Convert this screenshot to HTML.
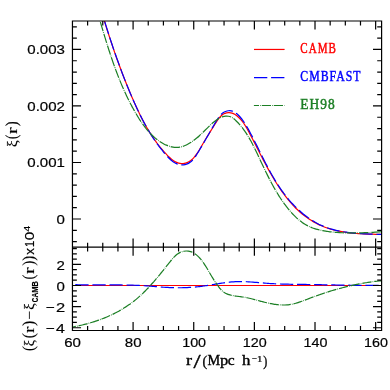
<!DOCTYPE html>
<html><head><meta charset="utf-8"><title>xi(r)</title>
<style>html,body{margin:0;padding:0;background:#fff;}body{width:390px;height:390px;overflow:hidden;font-family:"Liberation Sans",sans-serif;}svg{display:block;will-change:transform;}</style>
</head><body>
<svg width="390" height="390" viewBox="0 0 390 390">
<defs>
<clipPath id="ct"><rect x="72.45" y="21.0" width="309.15" height="226.20"/></clipPath>
<clipPath id="cb"><rect x="72.45" y="247.2" width="309.15" height="83.30"/></clipPath>
</defs>
<rect width="390" height="390" fill="#fff"/>
<g fill="none" stroke-width="1.2" stroke-linecap="butt" stroke-linejoin="round">
<g clip-path="url(#ct)">
<path d="M100.03,6.33 C100.17,6.79 100.58,8.20 100.85,9.13 C101.13,10.07 101.41,11.00 101.68,11.93 C101.96,12.87 102.24,13.80 102.52,14.74 C102.80,15.67 103.08,16.60 103.36,17.54 C103.65,18.47 103.93,19.40 104.22,20.34 C104.50,21.27 104.79,22.20 105.08,23.13 C105.36,24.07 105.65,25.00 105.94,25.93 C106.23,26.86 106.53,27.79 106.82,28.72 C107.11,29.66 107.41,30.59 107.71,31.52 C108.00,32.45 108.30,33.38 108.60,34.30 C108.90,35.23 109.20,36.16 109.51,37.09 C109.81,38.02 110.11,38.95 110.42,39.88 C110.73,40.80 111.03,41.73 111.34,42.66 C111.65,43.58 111.96,44.51 112.27,45.43 C112.59,46.36 112.90,47.28 113.22,48.21 C113.53,49.13 113.85,50.06 114.17,50.98 C114.49,51.90 114.81,52.83 115.13,53.75 C115.46,54.67 115.78,55.59 116.11,56.51 C116.43,57.43 116.76,58.35 117.09,59.27 C117.42,60.19 117.75,61.11 118.09,62.03 C118.42,62.95 118.75,63.87 119.09,64.78 C119.43,65.70 119.77,66.62 120.11,67.53 C120.45,68.45 120.79,69.36 121.14,70.27 C121.48,71.19 121.83,72.10 122.18,73.01 C122.53,73.93 122.88,74.84 123.23,75.75 C123.58,76.66 123.94,77.57 124.29,78.48 C124.65,79.39 125.01,80.29 125.37,81.20 C125.73,82.11 126.09,83.02 126.46,83.92 C126.82,84.83 127.19,85.73 127.56,86.63 C127.93,87.54 128.30,88.44 128.67,89.34 C129.05,90.24 129.42,91.14 129.80,92.04 C130.18,92.94 130.56,93.84 130.94,94.74 C131.32,95.64 131.71,96.54 132.09,97.43 C132.48,98.33 132.87,99.22 133.26,100.12 C133.65,101.01 134.05,101.90 134.44,102.79 C134.84,103.68 135.24,104.57 135.64,105.46 C136.04,106.35 136.45,107.24 136.86,108.12 C137.27,109.00 137.68,109.89 138.10,110.77 C138.51,111.65 138.93,112.53 139.36,113.40 C139.79,114.28 140.22,115.15 140.65,116.02 C141.09,116.90 141.53,117.76 141.97,118.63 C142.42,119.49 142.87,120.36 143.32,121.22 C143.78,122.08 144.24,122.93 144.71,123.79 C145.17,124.64 145.65,125.49 146.13,126.34 C146.61,127.18 147.09,128.03 147.59,128.86 C148.08,129.70 148.58,130.54 149.09,131.37 C149.60,132.20 150.11,133.03 150.63,133.85 C151.16,134.67 151.69,135.49 152.23,136.30 C152.76,137.12 153.31,137.93 153.87,138.73 C154.42,139.53 154.98,140.33 155.56,141.13 C156.13,141.92 156.71,142.71 157.30,143.50 C157.89,144.28 158.49,145.06 159.10,145.83 C159.71,146.60 160.33,147.37 160.96,148.13 C161.59,148.90 162.23,149.65 162.88,150.40 C163.53,151.15 164.19,151.90 164.86,152.63 C165.53,153.37 166.21,154.10 166.91,154.83 C167.60,155.55 168.31,156.28 169.03,156.97 C169.75,157.66 170.48,158.34 171.23,158.97 C171.99,159.60 172.75,160.20 173.55,160.73 C174.34,161.27 175.15,161.76 175.99,162.16 C176.82,162.57 177.68,162.92 178.57,163.16 C179.46,163.40 180.37,163.57 181.32,163.62 C182.26,163.67 183.27,163.62 184.23,163.46 C185.19,163.30 186.18,163.02 187.09,162.66 C187.99,162.30 188.86,161.82 189.67,161.29 C190.49,160.76 191.26,160.14 192.00,159.48 C192.74,158.82 193.43,158.08 194.09,157.33 C194.75,156.57 195.38,155.77 195.98,154.96 C196.58,154.16 197.14,153.32 197.68,152.49 C198.23,151.67 198.74,150.84 199.25,150.00 C199.76,149.17 200.24,148.34 200.74,147.50 C201.23,146.67 201.71,145.84 202.20,145.00 C202.68,144.17 203.17,143.34 203.67,142.51 C204.16,141.68 204.65,140.86 205.15,140.03 C205.65,139.20 206.15,138.37 206.65,137.55 C207.15,136.72 207.65,135.89 208.16,135.07 C208.67,134.24 209.18,133.41 209.69,132.58 C210.20,131.75 210.71,130.93 211.23,130.10 C211.75,129.26 212.26,128.43 212.79,127.60 C213.31,126.77 213.83,125.93 214.36,125.09 C214.89,124.26 215.41,123.41 215.95,122.57 C216.49,121.74 217.02,120.89 217.59,120.08 C218.17,119.26 218.76,118.45 219.41,117.69 C220.06,116.94 220.75,116.18 221.49,115.53 C222.23,114.89 223.03,114.27 223.87,113.82 C224.70,113.36 225.59,113.01 226.50,112.80 C227.40,112.59 228.35,112.52 229.27,112.56 C230.20,112.61 231.15,112.78 232.06,113.07 C232.96,113.35 233.86,113.78 234.70,114.28 C235.54,114.77 236.35,115.40 237.12,116.02 C237.89,116.65 238.62,117.34 239.31,118.04 C240.01,118.73 240.66,119.46 241.29,120.21 C241.93,120.95 242.52,121.72 243.10,122.51 C243.68,123.30 244.22,124.10 244.76,124.92 C245.29,125.74 245.80,126.58 246.30,127.42 C246.80,128.26 247.28,129.11 247.76,129.97 C248.23,130.83 248.70,131.70 249.16,132.56 C249.62,133.43 250.08,134.29 250.54,135.16 C250.99,136.03 251.45,136.90 251.90,137.77 C252.35,138.63 252.80,139.50 253.25,140.37 C253.70,141.24 254.15,142.11 254.59,142.98 C255.04,143.85 255.49,144.72 255.93,145.59 C256.37,146.46 256.82,147.33 257.26,148.20 C257.71,149.07 258.15,149.94 258.59,150.80 C259.04,151.67 259.48,152.54 259.92,153.41 C260.37,154.27 260.81,155.14 261.26,156.01 C261.71,156.87 262.15,157.74 262.60,158.60 C263.05,159.46 263.50,160.33 263.95,161.19 C264.41,162.05 264.86,162.91 265.32,163.77 C265.78,164.62 266.23,165.48 266.70,166.34 C267.16,167.19 267.62,168.04 268.09,168.90 C268.56,169.75 269.03,170.60 269.51,171.44 C269.99,172.29 270.46,173.14 270.95,173.98 C271.43,174.82 271.92,175.66 272.41,176.50 C272.91,177.34 273.40,178.18 273.90,179.01 C274.41,179.84 274.91,180.68 275.43,181.50 C275.94,182.33 276.46,183.16 276.98,183.98 C277.51,184.80 278.04,185.62 278.58,186.44 C279.11,187.25 279.66,188.06 280.21,188.87 C280.76,189.68 281.31,190.49 281.88,191.29 C282.44,192.09 283.01,192.89 283.59,193.68 C284.17,194.48 284.76,195.26 285.35,196.05 C285.95,196.83 286.55,197.61 287.16,198.37 C287.77,199.14 288.39,199.91 289.02,200.66 C289.65,201.42 290.29,202.16 290.93,202.90 C291.58,203.64 292.23,204.37 292.90,205.09 C293.56,205.81 294.24,206.52 294.92,207.22 C295.60,207.92 296.30,208.61 297.00,209.29 C297.70,209.97 298.42,210.64 299.14,211.29 C299.87,211.94 300.60,212.59 301.35,213.21 C302.09,213.84 302.85,214.46 303.61,215.06 C304.38,215.66 305.15,216.25 305.94,216.83 C306.72,217.40 307.52,217.96 308.32,218.51 C309.13,219.05 309.94,219.59 310.76,220.10 C311.58,220.62 312.42,221.12 313.25,221.61 C314.09,222.10 314.94,222.57 315.80,223.03 C316.65,223.48 317.52,223.92 318.39,224.35 C319.26,224.77 320.14,225.18 321.03,225.57 C321.92,225.97 322.81,226.34 323.71,226.70 C324.61,227.06 325.52,227.40 326.43,227.72 C327.35,228.05 328.27,228.36 329.20,228.65 C330.12,228.94 331.05,229.22 331.99,229.48 C332.93,229.74 333.87,229.99 334.82,230.22 C335.77,230.45 336.72,230.67 337.68,230.88 C338.63,231.08 339.59,231.27 340.56,231.46 C341.52,231.64 342.49,231.80 343.46,231.96 C344.43,232.12 345.40,232.26 346.37,232.40 C347.35,232.54 348.33,232.66 349.31,232.78 C350.29,232.89 351.27,233.00 352.25,233.10 C353.23,233.20 354.21,233.28 355.20,233.37 C356.18,233.45 357.17,233.52 358.15,233.59 C359.13,233.66 360.12,233.72 361.10,233.77 C362.08,233.83 363.07,233.88 364.05,233.92 C365.03,233.97 366.01,234.01 366.99,234.04 C367.97,234.08 368.94,234.11 369.92,234.14 C370.89,234.17 371.86,234.19 372.83,234.21 C373.80,234.24 374.77,234.26 375.73,234.28 C376.69,234.30 377.65,234.32 378.61,234.34 C379.56,234.35 380.98,234.38 381.46,234.39" stroke="#ff0000"/>
<path d="M100.02,6.01 C100.16,6.48 100.57,7.89 100.85,8.84 C101.14,9.78 101.42,10.73 101.70,11.67 C101.98,12.61 102.27,13.56 102.55,14.50 C102.84,15.44 103.12,16.39 103.41,17.33 C103.70,18.27 103.98,19.22 104.27,20.16 C104.56,21.10 104.85,22.04 105.14,22.99 C105.44,23.93 105.73,24.87 106.02,25.81 C106.32,26.75 106.61,27.69 106.91,28.64 C107.21,29.58 107.50,30.52 107.80,31.46 C108.10,32.40 108.40,33.34 108.71,34.28 C109.01,35.22 109.31,36.16 109.62,37.09 C109.92,38.03 110.23,38.97 110.54,39.91 C110.84,40.85 111.15,41.78 111.46,42.72 C111.77,43.66 112.09,44.60 112.40,45.53 C112.72,46.47 113.03,47.40 113.35,48.34 C113.67,49.27 113.98,50.21 114.31,51.14 C114.63,52.07 114.95,53.01 115.27,53.94 C115.60,54.87 115.92,55.80 116.25,56.74 C116.58,57.67 116.91,58.60 117.24,59.53 C117.57,60.46 117.90,61.39 118.24,62.32 C118.57,63.24 118.91,64.17 119.25,65.10 C119.59,66.03 119.93,66.95 120.27,67.88 C120.61,68.80 120.96,69.73 121.31,70.65 C121.65,71.58 122.00,72.50 122.35,73.42 C122.70,74.35 123.06,75.27 123.41,76.19 C123.77,77.11 124.12,78.03 124.48,78.95 C124.84,79.87 125.20,80.78 125.57,81.70 C125.93,82.62 126.30,83.53 126.67,84.45 C127.03,85.37 127.40,86.28 127.78,87.19 C128.15,88.11 128.53,89.02 128.90,89.93 C129.28,90.84 129.66,91.75 130.04,92.66 C130.43,93.57 130.81,94.48 131.20,95.38 C131.59,96.29 131.98,97.20 132.37,98.10 C132.76,99.01 133.16,99.91 133.55,100.81 C133.95,101.71 134.35,102.62 134.75,103.51 C135.16,104.41 135.56,105.31 135.97,106.21 C136.38,107.11 136.80,108.00 137.21,108.89 C137.63,109.79 138.05,110.68 138.48,111.57 C138.90,112.45 139.33,113.34 139.76,114.23 C140.20,115.11 140.64,115.99 141.08,116.87 C141.52,117.75 141.97,118.63 142.42,119.50 C142.87,120.38 143.33,121.25 143.79,122.12 C144.26,122.99 144.72,123.85 145.20,124.71 C145.67,125.58 146.15,126.44 146.64,127.29 C147.12,128.15 147.61,129.00 148.11,129.85 C148.61,130.70 149.11,131.54 149.63,132.39 C150.14,133.23 150.65,134.07 151.18,134.90 C151.70,135.73 152.24,136.56 152.78,137.39 C153.32,138.22 153.86,139.04 154.42,139.86 C154.97,140.67 155.53,141.49 156.10,142.29 C156.67,143.10 157.25,143.91 157.84,144.71 C158.42,145.50 159.02,146.30 159.62,147.09 C160.23,147.88 160.84,148.66 161.46,149.44 C162.08,150.22 162.71,150.99 163.35,151.76 C163.99,152.53 164.64,153.29 165.30,154.05 C165.96,154.81 166.62,155.56 167.30,156.30 C167.98,157.04 168.67,157.79 169.38,158.49 C170.09,159.19 170.81,159.89 171.56,160.52 C172.30,161.15 173.07,161.75 173.87,162.28 C174.67,162.81 175.49,163.29 176.35,163.67 C177.21,164.06 178.10,164.38 179.03,164.59 C179.97,164.80 180.95,164.93 181.96,164.93 C182.97,164.93 184.08,164.82 185.08,164.60 C186.09,164.38 187.09,164.04 187.98,163.62 C188.88,163.21 189.69,162.67 190.46,162.09 C191.23,161.50 191.93,160.82 192.60,160.11 C193.27,159.40 193.88,158.61 194.48,157.82 C195.07,157.02 195.63,156.18 196.18,155.34 C196.73,154.50 197.26,153.64 197.79,152.78 C198.32,151.93 198.84,151.07 199.36,150.22 C199.87,149.37 200.38,148.51 200.88,147.66 C201.39,146.81 201.88,145.96 202.38,145.11 C202.87,144.26 203.36,143.42 203.85,142.58 C204.34,141.73 204.83,140.89 205.31,140.05 C205.80,139.21 206.28,138.37 206.76,137.53 C207.25,136.69 207.73,135.85 208.21,135.00 C208.70,134.16 209.18,133.31 209.67,132.47 C210.15,131.62 210.64,130.77 211.13,129.92 C211.63,129.06 212.12,128.21 212.62,127.34 C213.12,126.48 213.62,125.62 214.12,124.74 C214.63,123.87 215.14,122.99 215.66,122.11 C216.19,121.23 216.70,120.33 217.26,119.47 C217.81,118.61 218.36,117.75 218.97,116.95 C219.57,116.15 220.19,115.37 220.88,114.68 C221.56,113.99 222.27,113.34 223.05,112.80 C223.83,112.26 224.68,111.79 225.57,111.45 C226.46,111.11 227.43,110.86 228.38,110.75 C229.33,110.64 230.33,110.64 231.28,110.80 C232.22,110.96 233.16,111.27 234.03,111.71 C234.90,112.15 235.71,112.79 236.48,113.42 C237.26,114.06 237.99,114.80 238.70,115.52 C239.40,116.24 240.07,116.98 240.71,117.74 C241.36,118.50 241.97,119.28 242.56,120.07 C243.16,120.86 243.72,121.67 244.27,122.49 C244.82,123.31 245.35,124.14 245.87,124.98 C246.39,125.82 246.88,126.67 247.37,127.53 C247.87,128.38 248.34,129.25 248.82,130.11 C249.29,130.97 249.76,131.84 250.22,132.71 C250.69,133.58 251.15,134.46 251.60,135.33 C252.06,136.20 252.51,137.08 252.96,137.96 C253.41,138.83 253.86,139.71 254.31,140.59 C254.75,141.47 255.20,142.35 255.64,143.23 C256.08,144.11 256.52,145.00 256.96,145.88 C257.40,146.76 257.84,147.64 258.28,148.53 C258.71,149.41 259.15,150.29 259.59,151.18 C260.02,152.06 260.46,152.94 260.90,153.82 C261.34,154.71 261.78,155.59 262.22,156.47 C262.66,157.35 263.10,158.23 263.54,159.11 C263.99,159.99 264.43,160.87 264.88,161.75 C265.33,162.62 265.77,163.50 266.23,164.37 C266.68,165.25 267.14,166.12 267.60,166.99 C268.05,167.86 268.52,168.73 268.98,169.60 C269.45,170.46 269.92,171.33 270.40,172.19 C270.87,173.05 271.35,173.91 271.84,174.76 C272.33,175.62 272.82,176.47 273.31,177.32 C273.81,178.17 274.31,179.02 274.82,179.87 C275.33,180.71 275.85,181.55 276.37,182.39 C276.89,183.22 277.42,184.05 277.96,184.88 C278.50,185.71 279.04,186.54 279.60,187.36 C280.15,188.18 280.71,188.99 281.28,189.80 C281.85,190.62 282.43,191.42 283.01,192.22 C283.60,193.02 284.20,193.82 284.80,194.61 C285.40,195.40 286.02,196.18 286.64,196.96 C287.26,197.73 287.89,198.50 288.53,199.27 C289.17,200.03 289.81,200.78 290.47,201.53 C291.12,202.28 291.79,203.01 292.46,203.74 C293.13,204.47 293.82,205.19 294.51,205.90 C295.20,206.61 295.89,207.32 296.60,208.01 C297.31,208.70 298.02,209.38 298.75,210.05 C299.47,210.72 300.21,211.38 300.95,212.02 C301.69,212.67 302.44,213.31 303.20,213.93 C303.96,214.55 304.73,215.16 305.50,215.76 C306.28,216.36 307.07,216.94 307.86,217.51 C308.65,218.08 309.46,218.64 310.27,219.18 C311.08,219.73 311.90,220.25 312.73,220.77 C313.56,221.28 314.39,221.78 315.24,222.26 C316.08,222.74 316.94,223.21 317.80,223.66 C318.67,224.11 319.54,224.54 320.42,224.96 C321.30,225.37 322.19,225.77 323.09,226.15 C323.99,226.54 324.89,226.90 325.81,227.24 C326.72,227.59 327.65,227.91 328.58,228.22 C329.51,228.53 330.45,228.83 331.40,229.10 C332.34,229.38 333.30,229.64 334.25,229.89 C335.21,230.13 336.18,230.37 337.15,230.58 C338.12,230.80 339.09,231.00 340.07,231.19 C341.05,231.38 342.03,231.56 343.02,231.73 C344.01,231.89 345.00,232.05 345.99,232.19 C346.98,232.33 347.98,232.46 348.97,232.59 C349.97,232.71 350.97,232.82 351.97,232.92 C352.97,233.03 353.97,233.12 354.97,233.21 C355.97,233.29 356.97,233.37 357.97,233.44 C358.97,233.51 359.97,233.58 360.97,233.64 C361.97,233.70 362.97,233.75 363.96,233.80 C364.95,233.85 365.95,233.89 366.93,233.93 C367.92,233.97 368.91,234.00 369.89,234.04 C370.87,234.07 371.85,234.10 372.82,234.13 C373.79,234.16 374.76,234.18 375.72,234.21 C376.68,234.24 377.64,234.26 378.59,234.28 C379.53,234.31 380.94,234.35 381.41,234.36" stroke="#0000ff" stroke-dasharray="12.94 3.7" stroke-dashoffset="0.3"/>
<path d="M95.66,6.05 C95.79,6.49 96.19,7.82 96.45,8.71 C96.71,9.60 96.98,10.48 97.24,11.37 C97.50,12.26 97.76,13.15 98.02,14.04 C98.29,14.93 98.55,15.82 98.81,16.72 C99.07,17.61 99.33,18.50 99.59,19.39 C99.86,20.28 100.12,21.18 100.38,22.07 C100.65,22.96 100.91,23.86 101.17,24.75 C101.44,25.64 101.70,26.54 101.97,27.43 C102.23,28.33 102.50,29.22 102.76,30.12 C103.03,31.01 103.30,31.91 103.57,32.80 C103.84,33.69 104.11,34.59 104.38,35.48 C104.65,36.38 104.92,37.27 105.19,38.17 C105.46,39.06 105.74,39.95 106.01,40.85 C106.29,41.74 106.57,42.63 106.85,43.53 C107.13,44.42 107.41,45.31 107.69,46.20 C107.97,47.10 108.25,47.99 108.54,48.88 C108.83,49.77 109.11,50.66 109.40,51.55 C109.69,52.44 109.98,53.33 110.28,54.22 C110.57,55.11 110.87,55.99 111.17,56.88 C111.46,57.77 111.77,58.65 112.07,59.54 C112.37,60.42 112.68,61.31 112.98,62.19 C113.29,63.07 113.60,63.95 113.92,64.83 C114.23,65.71 114.55,66.59 114.87,67.47 C115.18,68.35 115.51,69.23 115.83,70.10 C116.16,70.98 116.48,71.85 116.82,72.73 C117.15,73.60 117.48,74.47 117.82,75.34 C118.16,76.21 118.50,77.08 118.84,77.95 C119.19,78.82 119.53,79.68 119.89,80.55 C120.24,81.41 120.59,82.27 120.95,83.13 C121.31,83.99 121.67,84.85 122.04,85.71 C122.41,86.56 122.78,87.42 123.15,88.27 C123.52,89.13 123.90,89.98 124.29,90.83 C124.67,91.67 125.06,92.52 125.45,93.37 C125.84,94.21 126.23,95.05 126.63,95.90 C127.03,96.74 127.44,97.57 127.85,98.41 C128.26,99.25 128.67,100.08 129.09,100.91 C129.51,101.74 129.93,102.57 130.36,103.40 C130.79,104.22 131.22,105.05 131.66,105.87 C132.10,106.69 132.54,107.51 132.99,108.32 C133.44,109.14 133.89,109.95 134.35,110.76 C134.81,111.57 135.27,112.38 135.74,113.19 C136.21,113.99 136.69,114.79 137.17,115.59 C137.65,116.39 138.14,117.19 138.63,117.98 C139.13,118.77 139.63,119.56 140.14,120.34 C140.65,121.12 141.16,121.90 141.69,122.66 C142.22,123.43 142.75,124.20 143.30,124.95 C143.84,125.70 144.40,126.45 144.97,127.19 C145.54,127.92 146.11,128.65 146.71,129.37 C147.30,130.08 147.90,130.79 148.52,131.49 C149.14,132.18 149.77,132.87 150.42,133.54 C151.06,134.21 151.72,134.87 152.40,135.51 C153.08,136.16 153.77,136.79 154.48,137.40 C155.19,138.02 155.91,138.62 156.66,139.20 C157.40,139.78 158.17,140.35 158.95,140.90 C159.73,141.45 160.53,141.99 161.34,142.49 C162.16,142.99 162.99,143.48 163.83,143.92 C164.68,144.37 165.53,144.79 166.40,145.17 C167.26,145.54 168.14,145.89 169.03,146.18 C169.91,146.47 170.80,146.72 171.70,146.92 C172.59,147.11 173.49,147.26 174.39,147.35 C175.29,147.43 176.20,147.46 177.10,147.42 C178.00,147.38 178.90,147.27 179.80,147.11 C180.69,146.95 181.59,146.72 182.47,146.45 C183.36,146.17 184.24,145.84 185.11,145.48 C185.98,145.11 186.84,144.69 187.69,144.25 C188.54,143.80 189.37,143.32 190.19,142.81 C191.01,142.31 191.82,141.77 192.61,141.22 C193.39,140.67 194.16,140.09 194.91,139.52 C195.66,138.94 196.38,138.34 197.09,137.75 C197.80,137.15 198.49,136.55 199.16,135.94 C199.84,135.33 200.50,134.71 201.16,134.09 C201.82,133.47 202.46,132.84 203.11,132.21 C203.75,131.58 204.39,130.94 205.04,130.30 C205.69,129.66 206.33,129.01 206.99,128.36 C207.65,127.72 208.31,127.06 208.99,126.41 C209.67,125.75 210.35,125.09 211.06,124.43 C211.77,123.78 212.49,123.11 213.23,122.48 C213.97,121.85 214.73,121.22 215.50,120.65 C216.28,120.07 217.06,119.51 217.87,119.01 C218.67,118.51 219.50,118.05 220.33,117.66 C221.17,117.28 222.03,116.94 222.90,116.70 C223.77,116.46 224.65,116.28 225.56,116.20 C226.46,116.13 227.40,116.14 228.31,116.27 C229.22,116.40 230.16,116.63 231.01,116.99 C231.86,117.35 232.65,117.88 233.41,118.43 C234.16,118.98 234.84,119.66 235.53,120.30 C236.22,120.95 236.88,121.61 237.54,122.28 C238.19,122.95 238.82,123.63 239.44,124.33 C240.06,125.02 240.66,125.73 241.24,126.45 C241.83,127.16 242.40,127.89 242.96,128.63 C243.52,129.37 244.06,130.12 244.60,130.87 C245.13,131.63 245.65,132.39 246.16,133.17 C246.67,133.94 247.16,134.72 247.65,135.51 C248.14,136.30 248.61,137.09 249.08,137.89 C249.55,138.69 250.01,139.50 250.46,140.32 C250.91,141.13 251.36,141.95 251.79,142.77 C252.23,143.60 252.66,144.42 253.09,145.26 C253.51,146.09 253.93,146.92 254.35,147.76 C254.76,148.60 255.17,149.44 255.58,150.28 C255.99,151.13 256.39,151.97 256.80,152.82 C257.20,153.66 257.60,154.51 258.00,155.36 C258.40,156.21 258.80,157.06 259.20,157.90 C259.60,158.75 260.00,159.60 260.39,160.45 C260.79,161.29 261.19,162.14 261.59,162.99 C261.99,163.84 262.39,164.68 262.79,165.53 C263.19,166.37 263.60,167.22 264.00,168.06 C264.40,168.90 264.81,169.75 265.22,170.59 C265.62,171.43 266.03,172.27 266.44,173.11 C266.86,173.95 267.27,174.78 267.69,175.62 C268.10,176.45 268.52,177.28 268.95,178.12 C269.37,178.95 269.80,179.77 270.23,180.60 C270.66,181.43 271.09,182.25 271.53,183.07 C271.97,183.89 272.41,184.71 272.86,185.52 C273.31,186.34 273.76,187.15 274.22,187.96 C274.68,188.77 275.14,189.57 275.61,190.38 C276.08,191.18 276.56,191.98 277.04,192.77 C277.52,193.56 278.01,194.36 278.50,195.14 C278.99,195.93 279.49,196.71 280.00,197.49 C280.51,198.27 281.02,199.04 281.55,199.81 C282.07,200.58 282.60,201.34 283.14,202.10 C283.68,202.86 284.22,203.61 284.78,204.36 C285.33,205.11 285.90,205.86 286.47,206.59 C287.04,207.33 287.62,208.06 288.21,208.79 C288.81,209.52 289.41,210.24 290.02,210.95 C290.63,211.67 291.25,212.37 291.88,213.07 C292.51,213.76 293.15,214.45 293.81,215.12 C294.46,215.79 295.13,216.46 295.80,217.10 C296.48,217.75 297.17,218.38 297.87,218.99 C298.57,219.61 299.28,220.21 300.01,220.78 C300.74,221.36 301.48,221.92 302.23,222.46 C302.99,222.99 303.75,223.51 304.53,224.00 C305.32,224.49 306.11,224.96 306.92,225.40 C307.73,225.85 308.56,226.26 309.40,226.65 C310.24,227.04 311.10,227.40 311.97,227.73 C312.84,228.06 313.73,228.37 314.62,228.65 C315.52,228.93 316.42,229.19 317.34,229.43 C318.25,229.67 319.17,229.89 320.10,230.09 C321.02,230.29 321.95,230.48 322.88,230.65 C323.82,230.82 324.75,230.97 325.69,231.12 C326.62,231.27 327.55,231.40 328.48,231.53 C329.41,231.65 330.34,231.77 331.27,231.87 C332.20,231.98 333.12,232.08 334.05,232.17 C334.98,232.26 335.90,232.34 336.83,232.41 C337.75,232.48 338.67,232.55 339.60,232.60 C340.52,232.66 341.44,232.71 342.37,232.75 C343.29,232.80 344.22,232.83 345.14,232.86 C346.07,232.89 346.99,232.92 347.92,232.93 C348.85,232.95 349.78,232.96 350.70,232.97 C351.63,232.98 352.56,232.98 353.50,232.97 C354.43,232.97 355.37,232.96 356.30,232.95 C357.24,232.94 358.18,232.92 359.12,232.90 C360.06,232.88 361.00,232.85 361.94,232.82 C362.88,232.79 363.82,232.76 364.76,232.72 C365.70,232.68 366.64,232.64 367.58,232.60 C368.52,232.55 369.46,232.51 370.39,232.46 C371.33,232.40 372.26,232.35 373.20,232.29 C374.13,232.24 375.06,232.17 375.98,232.11 C376.91,232.05 377.83,231.98 378.75,231.91 C379.67,231.84 381.04,231.74 381.50,231.70" stroke="#1c7f25" stroke-dasharray="9.45 1.12 0.7 1.03" stroke-dashoffset="7.9"/>
</g>
<g clip-path="url(#cb)">
<path d="M72.45,285.5 H381.6" stroke="#ff0000"/>
<path d="M72.30,284.62 C72.62,284.63 73.60,284.65 74.25,284.67 C74.90,284.69 75.55,284.70 76.20,284.72 C76.85,284.73 77.50,284.74 78.15,284.76 C78.80,284.77 79.45,284.78 80.10,284.79 C80.75,284.80 81.40,284.81 82.05,284.82 C82.69,284.83 83.34,284.83 83.99,284.84 C84.64,284.85 85.29,284.85 85.94,284.86 C86.59,284.86 87.24,284.87 87.89,284.87 C88.54,284.88 89.19,284.88 89.84,284.88 C90.49,284.88 91.14,284.89 91.79,284.89 C92.44,284.89 93.09,284.89 93.74,284.89 C94.39,284.89 95.04,284.90 95.69,284.90 C96.34,284.90 96.98,284.90 97.63,284.90 C98.28,284.90 98.93,284.90 99.58,284.90 C100.23,284.90 100.88,284.90 101.53,284.90 C102.18,284.90 102.83,284.90 103.48,284.90 C104.13,284.89 104.78,284.89 105.43,284.89 C106.08,284.89 106.73,284.89 107.38,284.89 C108.03,284.90 108.67,284.90 109.32,284.90 C109.97,284.90 110.62,284.90 111.27,284.90 C111.92,284.90 112.57,284.90 113.22,284.91 C113.87,284.91 114.52,284.91 115.17,284.92 C115.82,284.92 116.47,284.92 117.12,284.93 C117.77,284.93 118.41,284.94 119.06,284.94 C119.71,284.95 120.36,284.96 121.01,284.96 C121.66,284.97 122.31,284.98 122.96,284.99 C123.61,285.00 124.26,285.01 124.91,285.02 C125.56,285.03 126.21,285.04 126.85,285.06 C127.50,285.07 128.15,285.08 128.80,285.10 C129.45,285.12 130.10,285.13 130.75,285.15 C131.40,285.17 132.05,285.19 132.70,285.21 C133.35,285.23 134.00,285.25 134.65,285.27 C135.29,285.29 135.94,285.32 136.59,285.34 C137.24,285.37 137.89,285.40 138.54,285.43 C139.19,285.46 139.84,285.49 140.49,285.52 C141.14,285.55 141.79,285.58 142.43,285.62 C143.08,285.66 143.73,285.69 144.38,285.73 C145.03,285.77 145.68,285.81 146.33,285.85 C146.98,285.90 147.63,285.94 148.28,285.99 C148.93,286.03 149.57,286.08 150.22,286.13 C150.87,286.18 151.52,286.24 152.17,286.29 C152.82,286.34 153.47,286.40 154.12,286.45 C154.77,286.50 155.42,286.56 156.07,286.61 C156.71,286.67 157.36,286.72 158.01,286.78 C158.66,286.83 159.31,286.89 159.96,286.94 C160.61,286.99 161.26,287.04 161.90,287.09 C162.55,287.14 163.20,287.19 163.85,287.23 C164.50,287.28 165.15,287.32 165.80,287.36 C166.44,287.40 167.09,287.44 167.74,287.47 C168.39,287.50 169.04,287.53 169.69,287.56 C170.33,287.59 170.98,287.62 171.63,287.64 C172.28,287.66 172.93,287.68 173.57,287.70 C174.22,287.71 174.87,287.73 175.52,287.74 C176.17,287.75 176.81,287.75 177.46,287.76 C178.11,287.76 178.76,287.76 179.40,287.76 C180.05,287.76 180.70,287.75 181.34,287.74 C181.99,287.73 182.64,287.72 183.28,287.71 C183.93,287.69 184.58,287.67 185.22,287.65 C185.87,287.63 186.52,287.60 187.16,287.57 C187.81,287.54 188.45,287.51 189.10,287.47 C189.74,287.43 190.39,287.39 191.04,287.35 C191.68,287.31 192.33,287.26 192.97,287.21 C193.62,287.16 194.26,287.10 194.91,287.04 C195.55,286.99 196.19,286.92 196.84,286.86 C197.48,286.79 198.13,286.72 198.77,286.65 C199.41,286.57 200.06,286.50 200.70,286.42 C201.34,286.33 201.99,286.25 202.63,286.16 C203.27,286.07 203.92,285.98 204.56,285.89 C205.20,285.79 205.84,285.70 206.48,285.60 C207.13,285.50 207.77,285.40 208.41,285.30 C209.05,285.19 209.70,285.09 210.34,284.99 C210.98,284.88 211.62,284.78 212.26,284.67 C212.90,284.56 213.55,284.46 214.19,284.35 C214.83,284.25 215.47,284.14 216.11,284.04 C216.75,283.93 217.40,283.83 218.04,283.72 C218.68,283.62 219.32,283.52 219.96,283.42 C220.61,283.32 221.25,283.22 221.89,283.13 C222.53,283.04 223.18,282.94 223.82,282.85 C224.46,282.76 225.10,282.68 225.75,282.59 C226.39,282.51 227.03,282.43 227.68,282.36 C228.32,282.28 228.96,282.21 229.61,282.15 C230.25,282.08 230.89,282.02 231.54,281.96 C232.18,281.91 232.83,281.86 233.47,281.81 C234.12,281.77 234.76,281.73 235.41,281.70 C236.05,281.66 236.70,281.64 237.34,281.62 C237.99,281.60 238.64,281.59 239.28,281.58 C239.93,281.57 240.58,281.57 241.22,281.58 C241.87,281.58 242.52,281.59 243.17,281.61 C243.82,281.62 244.46,281.64 245.11,281.67 C245.76,281.69 246.41,281.72 247.06,281.75 C247.71,281.79 248.36,281.82 249.01,281.86 C249.66,281.90 250.30,281.94 250.95,281.99 C251.60,282.03 252.25,282.08 252.90,282.13 C253.55,282.18 254.20,282.23 254.85,282.29 C255.50,282.34 256.15,282.39 256.80,282.45 C257.45,282.50 258.10,282.56 258.76,282.62 C259.41,282.67 260.06,282.73 260.71,282.79 C261.36,282.84 262.01,282.90 262.66,282.95 C263.31,283.01 263.96,283.06 264.61,283.11 C265.26,283.17 265.91,283.22 266.56,283.27 C267.21,283.32 267.86,283.36 268.51,283.41 C269.16,283.45 269.81,283.50 270.46,283.54 C271.11,283.58 271.76,283.62 272.41,283.65 C273.06,283.69 273.71,283.72 274.36,283.76 C275.01,283.79 275.66,283.82 276.31,283.85 C276.95,283.88 277.60,283.90 278.25,283.93 C278.90,283.96 279.55,283.98 280.20,284.00 C280.85,284.03 281.50,284.05 282.15,284.07 C282.80,284.09 283.45,284.11 284.10,284.12 C284.74,284.14 285.39,284.16 286.04,284.17 C286.69,284.19 287.34,284.20 287.99,284.22 C288.64,284.23 289.29,284.24 289.94,284.26 C290.58,284.27 291.23,284.28 291.88,284.29 C292.53,284.30 293.18,284.31 293.83,284.32 C294.48,284.33 295.13,284.34 295.77,284.35 C296.42,284.36 297.07,284.36 297.72,284.37 C298.37,284.38 299.02,284.39 299.67,284.40 C300.32,284.40 300.96,284.41 301.61,284.42 C302.26,284.43 302.91,284.43 303.56,284.44 C304.21,284.45 304.86,284.46 305.51,284.47 C306.16,284.47 306.81,284.48 307.45,284.49 C308.10,284.50 308.75,284.51 309.40,284.52 C310.05,284.53 310.70,284.54 311.35,284.55 C312.00,284.56 312.65,284.57 313.30,284.58 C313.95,284.59 314.60,284.60 315.24,284.61 C315.89,284.62 316.54,284.63 317.19,284.64 C317.84,284.65 318.49,284.67 319.14,284.68 C319.79,284.69 320.44,284.70 321.09,284.71 C321.74,284.72 322.39,284.74 323.04,284.75 C323.69,284.76 324.34,284.77 324.99,284.78 C325.64,284.80 326.28,284.81 326.93,284.82 C327.58,284.83 328.23,284.84 328.88,284.86 C329.53,284.87 330.18,284.88 330.83,284.89 C331.48,284.90 332.13,284.92 332.78,284.93 C333.43,284.94 334.08,284.95 334.73,284.97 C335.38,284.98 336.03,284.99 336.68,285.00 C337.33,285.01 337.98,285.02 338.63,285.04 C339.28,285.05 339.93,285.06 340.58,285.07 C341.23,285.08 341.88,285.09 342.53,285.11 C343.18,285.12 343.83,285.13 344.48,285.14 C345.13,285.15 345.77,285.16 346.42,285.17 C347.07,285.18 347.72,285.19 348.37,285.20 C349.02,285.21 349.67,285.22 350.32,285.23 C350.97,285.24 351.62,285.25 352.27,285.26 C352.92,285.27 353.57,285.28 354.22,285.29 C354.87,285.29 355.52,285.30 356.17,285.31 C356.82,285.32 357.47,285.33 358.12,285.33 C358.77,285.34 359.42,285.35 360.07,285.35 C360.72,285.36 361.37,285.37 362.02,285.37 C362.67,285.38 363.32,285.38 363.97,285.39 C364.62,285.39 365.26,285.40 365.91,285.40 C366.56,285.41 367.21,285.41 367.86,285.41 C368.51,285.42 369.16,285.42 369.81,285.42 C370.46,285.43 371.11,285.43 371.76,285.43 C372.41,285.43 373.06,285.43 373.71,285.43 C374.36,285.43 375.01,285.43 375.66,285.43 C376.30,285.43 376.95,285.43 377.60,285.43 C378.25,285.42 378.90,285.42 379.55,285.42 C380.20,285.42 381.17,285.41 381.50,285.41" stroke="#0000ff" stroke-dasharray="13.3 3.8" stroke-dashoffset="14.1"/>
<path d="M72.58,326.99 C72.95,326.92 74.03,326.73 74.76,326.59 C75.49,326.46 76.22,326.31 76.95,326.17 C77.68,326.02 78.41,325.87 79.14,325.71 C79.87,325.55 80.60,325.38 81.33,325.21 C82.06,325.05 82.79,324.87 83.53,324.69 C84.26,324.51 84.99,324.32 85.72,324.13 C86.45,323.94 87.19,323.75 87.92,323.54 C88.65,323.34 89.38,323.13 90.11,322.92 C90.84,322.71 91.57,322.49 92.30,322.26 C93.02,322.04 93.75,321.81 94.48,321.57 C95.20,321.34 95.93,321.10 96.65,320.85 C97.38,320.60 98.10,320.35 98.82,320.09 C99.54,319.84 100.26,319.57 100.98,319.30 C101.69,319.03 102.41,318.76 103.12,318.48 C103.84,318.20 104.55,317.91 105.25,317.62 C105.96,317.33 106.67,317.03 107.37,316.73 C108.08,316.42 108.78,316.11 109.47,315.80 C110.17,315.48 110.87,315.16 111.56,314.84 C112.25,314.51 112.94,314.18 113.63,313.84 C114.31,313.50 114.99,313.16 115.67,312.81 C116.35,312.46 117.02,312.10 117.70,311.74 C118.37,311.38 119.03,311.01 119.70,310.64 C120.36,310.26 121.02,309.88 121.67,309.50 C122.33,309.11 122.98,308.72 123.62,308.33 C124.27,307.93 124.91,307.52 125.54,307.12 C126.18,306.71 126.81,306.29 127.44,305.87 C128.06,305.45 128.69,305.02 129.30,304.59 C129.92,304.15 130.53,303.72 131.13,303.27 C131.74,302.82 132.34,302.37 132.93,301.92 C133.52,301.46 134.11,300.99 134.69,300.52 C135.28,300.06 135.86,299.58 136.43,299.10 C137.00,298.62 137.57,298.13 138.13,297.64 C138.70,297.15 139.25,296.66 139.81,296.15 C140.36,295.65 140.91,295.15 141.46,294.63 C142.00,294.12 142.55,293.61 143.08,293.09 C143.62,292.57 144.16,292.04 144.69,291.51 C145.22,290.98 145.74,290.45 146.27,289.91 C146.79,289.37 147.31,288.83 147.83,288.28 C148.35,287.74 148.86,287.19 149.37,286.63 C149.88,286.08 150.39,285.52 150.90,284.96 C151.41,284.40 151.91,283.84 152.41,283.27 C152.91,282.70 153.41,282.13 153.91,281.56 C154.41,280.98 154.90,280.40 155.40,279.82 C155.89,279.24 156.38,278.66 156.87,278.08 C157.37,277.49 157.86,276.90 158.34,276.31 C158.83,275.72 159.32,275.13 159.81,274.54 C160.29,273.94 160.78,273.35 161.26,272.75 C161.75,272.15 162.23,271.55 162.72,270.95 C163.20,270.34 163.69,269.74 164.17,269.14 C164.65,268.53 165.14,267.92 165.62,267.32 C166.11,266.71 166.59,266.10 167.08,265.49 C167.56,264.88 168.05,264.27 168.53,263.66 C169.02,263.04 169.51,262.43 170.00,261.82 C170.49,261.21 170.98,260.60 171.48,260.00 C171.97,259.41 172.48,258.82 172.99,258.25 C173.50,257.68 174.02,257.12 174.56,256.59 C175.09,256.07 175.64,255.56 176.20,255.08 C176.76,254.61 177.34,254.15 177.93,253.75 C178.53,253.34 179.14,252.96 179.77,252.63 C180.41,252.30 181.06,252.01 181.74,251.78 C182.42,251.54 183.13,251.35 183.86,251.22 C184.58,251.09 185.34,251.01 186.08,250.99 C186.83,250.97 187.60,251.00 188.35,251.09 C189.10,251.19 189.85,251.34 190.57,251.56 C191.29,251.77 192.00,252.05 192.67,252.38 C193.35,252.71 193.99,253.11 194.62,253.53 C195.25,253.94 195.85,254.40 196.43,254.88 C197.01,255.35 197.57,255.85 198.11,256.37 C198.66,256.89 199.18,257.43 199.69,257.98 C200.20,258.54 200.69,259.11 201.16,259.70 C201.64,260.28 202.10,260.89 202.56,261.50 C203.01,262.11 203.44,262.74 203.87,263.38 C204.30,264.01 204.72,264.66 205.13,265.31 C205.55,265.96 205.95,266.62 206.35,267.28 C206.75,267.94 207.14,268.61 207.53,269.28 C207.92,269.94 208.31,270.61 208.69,271.28 C209.08,271.95 209.46,272.62 209.85,273.28 C210.24,273.94 210.62,274.60 211.01,275.25 C211.41,275.90 211.80,276.55 212.20,277.19 C212.59,277.83 212.99,278.47 213.40,279.11 C213.81,279.74 214.22,280.37 214.64,281.00 C215.06,281.63 215.48,282.26 215.91,282.88 C216.34,283.51 216.78,284.14 217.22,284.76 C217.67,285.39 218.12,286.03 218.58,286.65 C219.04,287.27 219.51,287.91 220.00,288.51 C220.50,289.10 221.00,289.70 221.53,290.24 C222.06,290.77 222.61,291.28 223.19,291.73 C223.77,292.18 224.37,292.58 225.00,292.95 C225.62,293.31 226.27,293.63 226.94,293.91 C227.61,294.20 228.29,294.45 228.99,294.67 C229.70,294.89 230.41,295.08 231.14,295.25 C231.87,295.43 232.61,295.57 233.36,295.71 C234.11,295.84 234.87,295.95 235.63,296.07 C236.39,296.18 237.16,296.27 237.93,296.37 C238.69,296.47 239.47,296.56 240.23,296.66 C241.00,296.76 241.77,296.86 242.53,296.97 C243.29,297.09 244.05,297.21 244.80,297.34 C245.55,297.48 246.30,297.62 247.04,297.77 C247.78,297.92 248.52,298.08 249.25,298.25 C249.99,298.42 250.72,298.59 251.45,298.77 C252.18,298.95 252.90,299.13 253.63,299.32 C254.35,299.51 255.08,299.70 255.80,299.89 C256.52,300.09 257.25,300.28 257.97,300.48 C258.69,300.67 259.41,300.87 260.14,301.06 C260.86,301.26 261.59,301.45 262.31,301.64 C263.04,301.83 263.77,302.02 264.50,302.21 C265.23,302.39 265.97,302.57 266.71,302.74 C267.45,302.91 268.19,303.08 268.93,303.24 C269.68,303.40 270.43,303.56 271.18,303.70 C271.93,303.84 272.69,303.98 273.44,304.10 C274.20,304.23 274.96,304.34 275.72,304.44 C276.47,304.54 277.24,304.63 278.00,304.71 C278.76,304.78 279.52,304.85 280.28,304.89 C281.04,304.94 281.80,304.97 282.56,304.99 C283.32,305.00 284.07,305.00 284.83,304.98 C285.58,304.96 286.34,304.93 287.09,304.87 C287.84,304.81 288.59,304.73 289.33,304.64 C290.07,304.54 290.82,304.42 291.55,304.28 C292.29,304.14 293.02,303.98 293.75,303.81 C294.49,303.63 295.21,303.44 295.94,303.24 C296.67,303.03 297.39,302.81 298.11,302.58 C298.83,302.35 299.55,302.11 300.27,301.86 C300.99,301.61 301.70,301.35 302.42,301.09 C303.13,300.83 303.85,300.56 304.56,300.28 C305.27,300.01 305.99,299.73 306.70,299.46 C307.41,299.18 308.12,298.90 308.83,298.63 C309.55,298.35 310.26,298.08 310.97,297.81 C311.68,297.54 312.40,297.27 313.11,297.00 C313.82,296.74 314.54,296.48 315.25,296.22 C315.96,295.96 316.68,295.71 317.39,295.45 C318.11,295.20 318.82,294.95 319.54,294.70 C320.25,294.46 320.97,294.21 321.69,293.97 C322.41,293.73 323.12,293.49 323.84,293.25 C324.56,293.02 325.28,292.78 326.00,292.55 C326.72,292.32 327.44,292.09 328.16,291.86 C328.88,291.64 329.60,291.41 330.33,291.19 C331.05,290.97 331.77,290.75 332.50,290.54 C333.22,290.32 333.95,290.10 334.68,289.89 C335.40,289.68 336.13,289.47 336.86,289.26 C337.59,289.06 338.32,288.85 339.05,288.65 C339.78,288.45 340.51,288.25 341.24,288.05 C341.97,287.86 342.71,287.66 343.44,287.47 C344.18,287.28 344.91,287.09 345.65,286.91 C346.38,286.72 347.12,286.54 347.86,286.36 C348.59,286.18 349.33,286.01 350.07,285.84 C350.81,285.66 351.55,285.49 352.29,285.33 C353.03,285.16 353.77,285.00 354.52,284.84 C355.26,284.68 356.00,284.52 356.74,284.37 C357.49,284.22 358.23,284.07 358.98,283.93 C359.72,283.78 360.47,283.64 361.21,283.50 C361.96,283.37 362.71,283.23 363.45,283.10 C364.20,282.97 364.95,282.85 365.70,282.73 C366.45,282.60 367.20,282.49 367.95,282.37 C368.70,282.26 369.45,282.15 370.20,282.05 C370.95,281.94 371.70,281.84 372.45,281.75 C373.20,281.65 373.96,281.56 374.71,281.47 C375.46,281.39 376.22,281.30 376.97,281.23 C377.72,281.15 378.48,281.07 379.23,281.01 C379.99,280.94 381.12,280.85 381.50,280.82" stroke="#1c7f25" stroke-dasharray="9.2 1.1 0.7 1.0" stroke-dashoffset="5.9"/>
</g>
<path d="M254.0,49.45 H284.6" stroke="#ff0000"/>
<path d="M254.0,77.55 H284.4" stroke="#0000ff" stroke-dasharray="13.3 3.8"/>
<path d="M253.9,105.5 H284.5" stroke="#1c7f25" stroke-dasharray="9.2 1.1 0.7 1.0" stroke-dashoffset="4.1"/>
</g>
<g fill="none" stroke="#000" stroke-width="1.2" stroke-linecap="butt">
<path d="M87.61,21.00 V25.40 M87.61,242.80 V251.60 M87.61,326.10 V330.50 M102.77,21.00 V25.40 M102.77,242.80 V251.60 M102.77,326.10 V330.50 M117.93,21.00 V25.40 M117.93,242.80 V251.60 M117.93,326.10 V330.50 M133.09,21.00 V29.60 M133.09,238.60 V255.80 M133.09,321.90 V330.50 M148.25,21.00 V25.40 M148.25,242.80 V251.60 M148.25,326.10 V330.50 M163.41,21.00 V25.40 M163.41,242.80 V251.60 M163.41,326.10 V330.50 M178.57,21.00 V25.40 M178.57,242.80 V251.60 M178.57,326.10 V330.50 M193.73,21.00 V29.60 M193.73,238.60 V255.80 M193.73,321.90 V330.50 M208.89,21.00 V25.40 M208.89,242.80 V251.60 M208.89,326.10 V330.50 M224.05,21.00 V25.40 M224.05,242.80 V251.60 M224.05,326.10 V330.50 M239.21,21.00 V25.40 M239.21,242.80 V251.60 M239.21,326.10 V330.50 M254.37,21.00 V29.60 M254.37,238.60 V255.80 M254.37,321.90 V330.50 M269.53,21.00 V25.40 M269.53,242.80 V251.60 M269.53,326.10 V330.50 M284.69,21.00 V25.40 M284.69,242.80 V251.60 M284.69,326.10 V330.50 M299.85,21.00 V25.40 M299.85,242.80 V251.60 M299.85,326.10 V330.50 M315.01,21.00 V29.60 M315.01,238.60 V255.80 M315.01,321.90 V330.50 M330.17,21.00 V25.40 M330.17,242.80 V251.60 M330.17,326.10 V330.50 M345.33,21.00 V25.40 M345.33,242.80 V251.60 M345.33,326.10 V330.50 M360.49,21.00 V25.40 M360.49,242.80 V251.60 M360.49,326.10 V330.50 M375.65,21.00 V29.60 M375.65,238.60 V255.80 M375.65,321.90 V330.50 M72.45,241.61 H76.85 M377.20,241.61 H381.60 M72.45,230.30 H76.85 M377.20,230.30 H381.60 M72.45,219.00 H81.05 M373.00,219.00 H381.60 M72.45,207.70 H76.85 M377.20,207.70 H381.60 M72.45,196.39 H76.85 M377.20,196.39 H381.60 M72.45,185.09 H76.85 M377.20,185.09 H381.60 M72.45,173.79 H76.85 M377.20,173.79 H381.60 M72.45,162.48 H81.05 M373.00,162.48 H381.60 M72.45,151.18 H76.85 M377.20,151.18 H381.60 M72.45,139.88 H76.85 M377.20,139.88 H381.60 M72.45,128.57 H76.85 M377.20,128.57 H381.60 M72.45,117.27 H76.85 M377.20,117.27 H381.60 M72.45,105.97 H81.05 M373.00,105.97 H381.60 M72.45,94.66 H76.85 M377.20,94.66 H381.60 M72.45,83.36 H76.85 M377.20,83.36 H381.60 M72.45,72.06 H76.85 M377.20,72.06 H381.60 M72.45,60.75 H76.85 M377.20,60.75 H381.60 M72.45,49.45 H81.05 M373.00,49.45 H381.60 M72.45,38.15 H76.85 M377.20,38.15 H381.60 M72.45,26.84 H76.85 M377.20,26.84 H381.60 M72.45,327.74 H81.05 M373.00,327.74 H381.60 M72.45,322.46 H76.85 M377.20,322.46 H381.60 M72.45,317.18 H76.85 M377.20,317.18 H381.60 M72.45,311.90 H76.85 M377.20,311.90 H381.60 M72.45,306.62 H81.05 M373.00,306.62 H381.60 M72.45,301.34 H76.85 M377.20,301.34 H381.60 M72.45,296.06 H76.85 M377.20,296.06 H381.60 M72.45,290.78 H76.85 M377.20,290.78 H381.60 M72.45,285.50 H81.05 M373.00,285.50 H381.60 M72.45,280.22 H76.85 M377.20,280.22 H381.60 M72.45,274.94 H76.85 M377.20,274.94 H381.60 M72.45,269.66 H76.85 M377.20,269.66 H381.60 M72.45,264.38 H81.05 M373.00,264.38 H381.60 M72.45,259.10 H76.85 M377.20,259.10 H381.60 M72.45,253.82 H76.85 M377.20,253.82 H381.60 M72.45,248.54 H76.85 M377.20,248.54 H381.60"/>
<path d="M72.45,21.0 H381.6 V330.5 H72.45 Z M72.45,247.2 H381.6" stroke-linejoin="miter"/>
</g>
<g fill="#000">
<text transform="translate(72.55,347.00) scale(1.105,1)" text-anchor="middle" font-family='"Liberation Sans", sans-serif' font-size="13.60" fill="#000" font-weight="normal" stroke="#000" stroke-width="0.2" >60</text>
<text transform="translate(133.19,347.00) scale(1.105,1)" text-anchor="middle" font-family='"Liberation Sans", sans-serif' font-size="13.60" fill="#000" font-weight="normal" stroke="#000" stroke-width="0.2" >80</text>
<text transform="translate(194.13,347.00) scale(1.055,1)" text-anchor="middle" font-family='"Liberation Sans", sans-serif' font-size="13.60" fill="#000" font-weight="normal" stroke="#000" stroke-width="0.2" >100</text>
<text transform="translate(254.77,347.00) scale(1.055,1)" text-anchor="middle" font-family='"Liberation Sans", sans-serif' font-size="13.60" fill="#000" font-weight="normal" stroke="#000" stroke-width="0.2" >120</text>
<text transform="translate(315.41,347.00) scale(1.055,1)" text-anchor="middle" font-family='"Liberation Sans", sans-serif' font-size="13.60" fill="#000" font-weight="normal" stroke="#000" stroke-width="0.2" >140</text>
<text transform="translate(376.05,347.00) scale(1.055,1)" text-anchor="middle" font-family='"Liberation Sans", sans-serif' font-size="13.60" fill="#000" font-weight="normal" stroke="#000" stroke-width="0.2" >160</text>
<text transform="translate(64.90,54.25) scale(1.105,1)" text-anchor="end" font-family='"Liberation Sans", sans-serif' font-size="13.60" fill="#000" font-weight="normal" stroke="#000" stroke-width="0.2" >0.003</text>
<text transform="translate(64.90,110.77) scale(1.105,1)" text-anchor="end" font-family='"Liberation Sans", sans-serif' font-size="13.60" fill="#000" font-weight="normal" stroke="#000" stroke-width="0.2" >0.002</text>
<text transform="translate(64.90,167.28) scale(1.105,1)" text-anchor="end" font-family='"Liberation Sans", sans-serif' font-size="13.60" fill="#000" font-weight="normal" stroke="#000" stroke-width="0.2" >0.001</text>
<text transform="translate(64.90,223.80) scale(1.105,1)" text-anchor="end" font-family='"Liberation Sans", sans-serif' font-size="13.60" fill="#000" font-weight="normal" stroke="#000" stroke-width="0.2" >0</text>
<text transform="translate(64.90,269.58) scale(1.105,1)" text-anchor="end" font-family='"Liberation Sans", sans-serif' font-size="13.60" fill="#000" font-weight="normal" stroke="#000" stroke-width="0.2" >2</text>
<text transform="translate(64.90,290.70) scale(1.105,1)" text-anchor="end" font-family='"Liberation Sans", sans-serif' font-size="13.60" fill="#000" font-weight="normal" stroke="#000" stroke-width="0.2" >0</text>
<text transform="translate(300.30,52.50) scale(0.7906,1)" font-family='"Liberation Serif", serif' font-size="14.00" fill="#ff0000" stroke="#ff0000" stroke-width="0.45" letter-spacing="1.265" font-weight="normal" text-anchor="start">CAMB</text>
<text transform="translate(300.30,80.60) scale(0.8427,1)" font-family='"Liberation Serif", serif' font-size="14.00" fill="#0000ff" stroke="#0000ff" stroke-width="0.45" letter-spacing="1.187" font-weight="normal" text-anchor="start">CMBFAST</text>
<text transform="translate(300.30,108.70) scale(0.9583,1)" font-family='"Liberation Serif", serif' font-size="14.00" fill="#1c7f25" stroke="#1c7f25" stroke-width="0.45" letter-spacing="1.044" font-weight="normal" text-anchor="start">EH98</text>
<text transform="translate(0.00,311.92)" y="0" font-family='"Liberation Sans", sans-serif' font-size="13.60" font-weight="normal" fill="#000" stroke="#000" stroke-width="0.20"><tspan x="46.04" y="0.00" textLength="9.02" lengthAdjust="spacingAndGlyphs">−</tspan><tspan x="56.07" y="0.00" textLength="9.16" lengthAdjust="spacingAndGlyphs">2</tspan></text>
<text transform="translate(0.00,333.04)" y="0" font-family='"Liberation Sans", sans-serif' font-size="13.60" font-weight="normal" fill="#000" stroke="#000" stroke-width="0.20"><tspan x="46.04" y="0.00" textLength="9.02" lengthAdjust="spacingAndGlyphs">−</tspan><tspan x="56.04" y="0.00" textLength="8.83" lengthAdjust="spacingAndGlyphs">4</tspan></text>
<text transform="translate(0.00,365.20)" y="0" font-family='"Liberation Serif", serif' font-size="14.00" font-weight="normal" fill="#000" stroke="#000" stroke-width="0.35"><tspan x="186.14" y="0.00" textLength="6.02" lengthAdjust="spacingAndGlyphs">r</tspan><tspan x="193.40" font-size="18.50" y="2.60" textLength="7.10" lengthAdjust="spacingAndGlyphs">/</tspan><tspan x="202.58" font-size="15.20" y="0.30" textLength="4.67" lengthAdjust="spacingAndGlyphs">(</tspan><tspan x="207.49" y="0.00" textLength="12.73" lengthAdjust="spacingAndGlyphs">M</tspan><tspan x="220.04" y="0.00" textLength="8.21" lengthAdjust="spacingAndGlyphs">p</tspan><tspan x="227.71" y="0.00" textLength="6.86" lengthAdjust="spacingAndGlyphs">c</tspan><tspan x="236.50"> </tspan><tspan x="242.14" y="0.00" textLength="8.38" lengthAdjust="spacingAndGlyphs">h</tspan></text>
<text transform="translate(0.00,361.80)" y="0" font-family='"Liberation Serif", serif' font-size="8.20" font-weight="normal" fill="#000" stroke="#000" stroke-width="0.24"><tspan x="252.04" y="-0.60" textLength="5.21" lengthAdjust="spacingAndGlyphs">−</tspan><tspan x="257.05" y="0.00" textLength="5.40" lengthAdjust="spacingAndGlyphs">1</tspan></text>
<text transform="translate(0.00,365.20)" y="0" font-family='"Liberation Serif", serif' font-size="14.00" font-weight="normal" fill="#000" stroke="#000" stroke-width="0.35"><tspan x="263.31" font-size="15.20" y="0.30" textLength="4.02" lengthAdjust="spacingAndGlyphs">)</tspan></text>
<text transform="translate(16.60,146.30) rotate(-90)" y="0" font-family='"Liberation Serif", serif' font-size="14.00" font-weight="normal" fill="#000" stroke="#000" stroke-width="0.15"><tspan x="-0.66" y="0.00" textLength="6.70" lengthAdjust="spacingAndGlyphs">ξ</tspan><tspan x="7.32" font-size="15.80" y="-0.10" textLength="4.41" lengthAdjust="spacingAndGlyphs">(</tspan><tspan x="12.21" y="0.00" textLength="6.57" lengthAdjust="spacingAndGlyphs">r</tspan><tspan x="20.02" font-size="15.80" y="-0.10" textLength="4.93" lengthAdjust="spacingAndGlyphs">)</tspan></text>
<text transform="translate(34.10,350.40) rotate(-90)" y="0" font-family='"Liberation Serif", serif' font-size="14.00" font-weight="normal" fill="#000" stroke="#000" stroke-width="0.15"><tspan x="-0.65" font-size="15.80" y="-0.10" textLength="4.93" lengthAdjust="spacingAndGlyphs">(</tspan><tspan x="4.27" y="0.00" textLength="6.35" lengthAdjust="spacingAndGlyphs">ξ</tspan><tspan x="12.23" font-size="15.80" y="-0.10" textLength="5.06" lengthAdjust="spacingAndGlyphs">(</tspan><tspan x="17.52" y="0.00" textLength="6.35" lengthAdjust="spacingAndGlyphs">r</tspan><tspan x="24.49" font-size="15.80" y="-0.10" textLength="5.32" lengthAdjust="spacingAndGlyphs">)</tspan><tspan x="31.01" y="0.00" textLength="8.97" lengthAdjust="spacingAndGlyphs">−</tspan><tspan x="40.65" y="0.00" textLength="6.58" lengthAdjust="spacingAndGlyphs">ξ</tspan></text>
<text transform="translate(37.70,350.40) rotate(-90)" y="0" font-family='"Liberation Sans", sans-serif' font-size="8.20" font-weight="bold" fill="#000" stroke="#000" stroke-width="0.15"><tspan x="48.24" y="0.00" textLength="4.53" lengthAdjust="spacingAndGlyphs">C</tspan><tspan x="52.93" y="0.00" textLength="4.95" lengthAdjust="spacingAndGlyphs">A</tspan><tspan x="57.70" y="0.00" textLength="6.19" lengthAdjust="spacingAndGlyphs">M</tspan><tspan x="63.57" y="0.00" textLength="5.68" lengthAdjust="spacingAndGlyphs">B</tspan></text>
<text transform="translate(34.10,350.40) rotate(-90)" y="0" font-family='"Liberation Serif", serif' font-size="14.00" font-weight="normal" fill="#000" stroke="#000" stroke-width="0.15"><tspan x="70.95" font-size="15.80" y="-0.10" textLength="4.93" lengthAdjust="spacingAndGlyphs">(</tspan><tspan x="76.41" y="0.00" textLength="6.57" lengthAdjust="spacingAndGlyphs">r</tspan><tspan x="84.61" font-size="15.80" y="-0.10" textLength="5.06" lengthAdjust="spacingAndGlyphs">)</tspan><tspan x="89.62" font-size="15.80" y="-0.10" textLength="4.93" lengthAdjust="spacingAndGlyphs">)</tspan></text>
<text transform="translate(34.40,350.40) rotate(-90)" y="0" font-family='"Liberation Sans", sans-serif' font-size="13.60" font-weight="normal" fill="#000" stroke="#000" stroke-width="0.20"><tspan x="95.65" y="0.00" textLength="6.69" lengthAdjust="spacingAndGlyphs">x</tspan><tspan x="103.35" y="0.00" textLength="6.19" lengthAdjust="spacingAndGlyphs">1</tspan><tspan x="110.20" y="0.00" textLength="8.49" lengthAdjust="spacingAndGlyphs">0</tspan></text>
<text transform="translate(30.00,350.40) rotate(-90)" y="0" font-family='"Liberation Sans", sans-serif' font-size="8.20" font-weight="normal" fill="#000" stroke="#000" stroke-width="0.15"><tspan x="118.75" y="0.00" textLength="6.07" lengthAdjust="spacingAndGlyphs">4</tspan></text>
</g>
</svg>
</body></html>
